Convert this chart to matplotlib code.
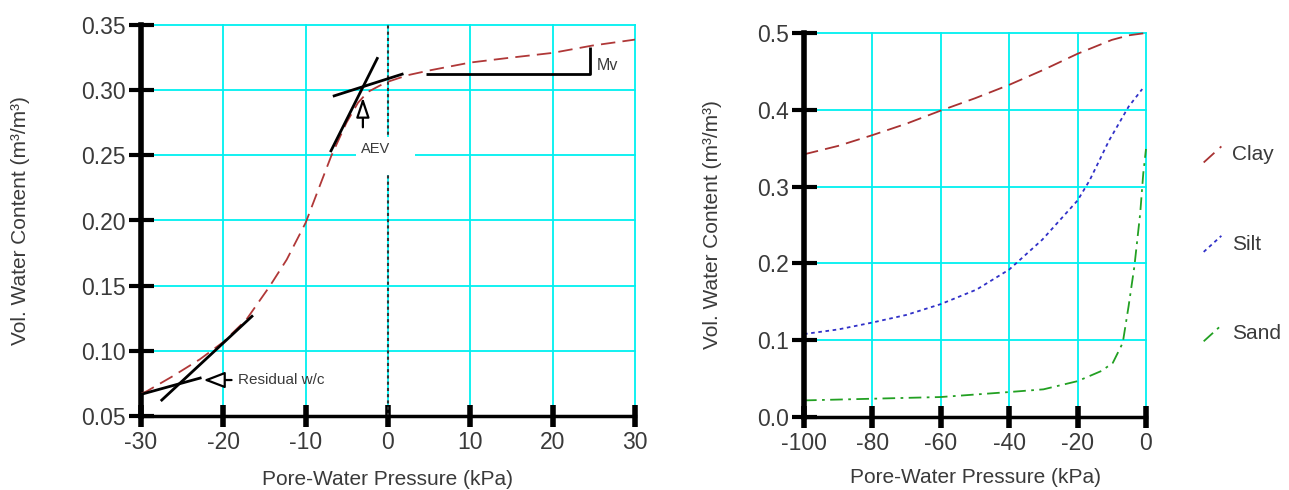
import matplotlib
matplotlib.use("Agg")
import matplotlib.pyplot as plt
from matplotlib.lines import Line2D
from matplotlib.patches import Rectangle
from matplotlib.legend_handler import HandlerLine2D

plt.rcParams['font.family'] = ['Liberation Sans', 'DejaVu Sans']

# ---- Left chart data (single soil curve with construction lines) ----
left_x = [-30, -29.3, -26.1, -22.85, -20, -17.2, -14.35, -12.3, -10, -8.3, -6.9, -5.05,
          -3.65, -2.45, -1, 0, 2.4, 5, 10, 14.7, 20, 24.8, 30]
left_y = [0.067, 0.069, 0.0807, 0.0935, 0.1068, 0.124, 0.1497, 0.170, 0.1983, 0.2264,
          0.2494, 0.275, 0.2903, 0.2986, 0.3035, 0.3065, 0.3115, 0.3151, 0.3212, 0.3248,
          0.3286, 0.3342, 0.3388]
left_xticks = [-30, -20, -10, 0, 10, 20, 30]
left_yticks = [0.05, 0.10, 0.15, 0.20, 0.25, 0.30, 0.35]

# tangent/construction segments (x pairs, y pairs)
aev_steep_x = [-7.0, -1.23]
aev_steep_y = [0.2525, 0.3253]
aev_flat_x = [-6.7, 1.88]
aev_flat_y = [0.2953, 0.3126]
mv_x = [4.6, 24.5, 24.5]
mv_y = [0.3126, 0.3126, 0.3334]
res_steep_x = [-27.6, -16.4]
res_steep_y = [0.0615, 0.1272]
res_flat_x = [-30, -22.65]
res_flat_y = [0.0666, 0.0794]

# ---- Right chart data ----
clay_x = [-100, -90, -80, -70, -60, -50, -40, -30, -20, -10, -5, 0]
clay_y = [0.342, 0.353, 0.367, 0.382, 0.399, 0.415, 0.4325, 0.452, 0.473, 0.491, 0.497, 0.500]
silt_x = [-100, -90, -80, -70, -60, -49.5, -40, -30.3, -20, -16.5, -10.8, -5.1, -1.1]
silt_y = [0.108, 0.114, 0.123, 0.133, 0.147, 0.166, 0.192, 0.231, 0.282, 0.308, 0.360, 0.404, 0.427]
sand_x = [-100, -80, -60, -40, -30, -20, -13, -9.7, -6.8, -5.1, -3.4, -1.7, -0.8, 0]
sand_y = [0.0216, 0.0238, 0.026, 0.0325, 0.036, 0.0467, 0.060, 0.0705, 0.0965, 0.144,
          0.196, 0.265, 0.317, 0.349]
right_xticks = [-100, -80, -60, -40, -20, 0]
right_yticks = [0.0, 0.1, 0.2, 0.3, 0.4, 0.5]
series_labels = ['Clay', 'Silt', 'Sand']

GRID = '#00f0f0'
TXT = '#3a3a3a'
TFS = 16.5
LFS = 15

fig = plt.figure(figsize=(12.89, 4.90), dpi=100)
axL = fig.add_axes([141/1289, 1-416/490, (635-141)/1289, (416-25)/490])
axR = fig.add_axes([804/1289, 1-417/490, (1146-804)/1289, (417-33)/490])


def style(ax, xt, yt, xfmt, yfmt, ylpad, xlpad):
    ax.set_xticks(xt)
    ax.set_yticks(yt)
    ax.set_xticklabels([xfmt(v) for v in xt])
    ax.set_yticklabels([yfmt(v) for v in yt])
    ax.set_xlim(xt[0], xt[-1])
    ax.set_ylim(yt[0], yt[-1])
    ax.grid(True, color=GRID, linewidth=1.3)
    for gl in ax.get_xgridlines() + ax.get_ygridlines():
        gl.set_clip_on(False)
    ax.set_axisbelow(True)
    for s in ['top', 'right']:
        ax.spines[s].set_visible(False)
    ax.spines['left'].set_linewidth(4)
    ax.spines['bottom'].set_linewidth(2.5)
    ax.tick_params(axis='y', direction='inout', length=18, width=3, labelsize=TFS,
                   labelcolor=TXT, pad=2)
    ax.tick_params(axis='x', direction='inout', length=16, width=4, labelsize=TFS,
                   labelcolor=TXT, pad=3)
    ax.set_xlabel('Pore-Water Pressure (kPa)', fontsize=LFS, color=TXT, labelpad=xlpad)
    ax.set_ylabel('Vol. Water Content (m³/m³)', fontsize=LFS, color=TXT, labelpad=ylpad)


style(axL, left_xticks, left_yticks, lambda v: f'{v:d}', lambda v: f'{v:.2f}', 37, 11.5)
style(axR, right_xticks, right_yticks, lambda v: f'{v:d}', lambda v: f'{v:.1f}', 25, 9)

# ---- Left plot ----
axL.axvline(0, color='#333333', linestyle=(0, (1.5, 1.5)), linewidth=1.5, zorder=2)
axL.add_patch(Rectangle((-3.85, 0.2348), 3.85 + 3.33, 0.2642 - 0.2348,
                        facecolor='white', edgecolor='none', zorder=2.5))
axL.plot(left_x, left_y, color='#b03838', linestyle=(0, (8, 4)), linewidth=1.3, zorder=3)
for xs, ys in [(aev_steep_x, aev_steep_y), (aev_flat_x, aev_flat_y), (mv_x, mv_y),
               (res_steep_x, res_steep_y), (res_flat_x, res_flat_y)]:
    axL.plot(xs, ys, color='black', linewidth=2, solid_capstyle='butt', zorder=4)

axL.text(-1.55, 0.2545, 'AEV', fontsize=10.5, color=TXT, ha='center', va='center', zorder=5)
axL.annotate('', xy=(-3.05, 0.2944), xytext=(-3.05, 0.2715),
             arrowprops=dict(arrowstyle='-|>,head_length=0.6,head_width=0.2', fc='white',
                             ec='black', lw=1.6, mutation_scale=20, shrinkA=0, shrinkB=0),
             zorder=6)
axL.annotate('', xy=(-22.4, 0.0776), xytext=(-19.0, 0.0776),
             arrowprops=dict(arrowstyle='-|>,head_length=0.65,head_width=0.25', fc='white',
                             ec='black', lw=1.6, mutation_scale=20, shrinkA=0, shrinkB=0),
             zorder=6)
axL.text(-18.2, 0.0776, 'Residual w/c', fontsize=11, color=TXT, ha='left', va='center')
axL.text(25.4, 0.319, 'Mv', fontsize=11.5, color=TXT, ha='left', va='center')

# ---- Right plot ----
l1, = axR.plot(clay_x, clay_y, color='#a83232', linestyle=(0, (8, 4)), linewidth=1.3)
l2, = axR.plot(silt_x, silt_y, color='#3030c8', linestyle=(0, (2, 2)), linewidth=1.3)
l3, = axR.plot(sand_x, sand_y, color='#22a022', linestyle=(0, (7, 3, 1.5, 3)), linewidth=1.3)
for l in (l1, l2, l3):
    l.set_clip_on(False)


class DiagHandler(HandlerLine2D):
    def create_artists(self, legend, orig_handle, xdescent, ydescent, width, height,
                       fontsize, trans):
        ln = Line2D([width * 0.45, width * 0.98], [-height * 0.15, height * 0.95])
        self.update_prop(ln, orig_handle, legend)
        ln.set_transform(trans)
        return [ln]


leg = axR.legend([l1, l2, l3], series_labels, loc='center left',
                 bbox_to_anchor=(1.07, 0.45), frameon=False, fontsize=LFS,
                 labelspacing=3.38, handlelength=1.6, handletextpad=0.5,
                 handler_map={Line2D: DiagHandler()})
for t in leg.get_texts():
    t.set_color(TXT)

fig.savefig('out.png', dpi=100)
